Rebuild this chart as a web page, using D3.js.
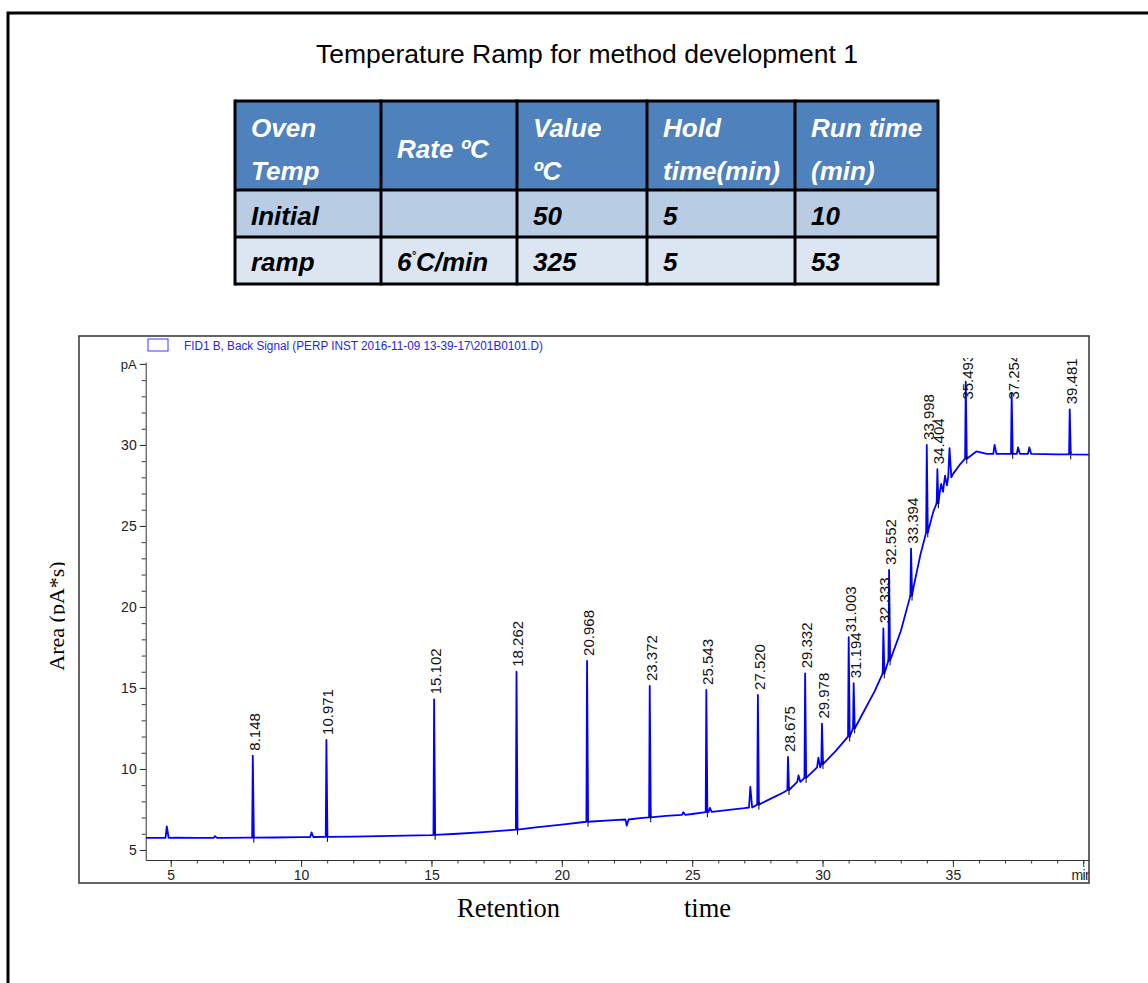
<!DOCTYPE html>
<html>
<head>
<meta charset="utf-8">
<script src="https://cdn.jsdelivr.net/npm/d3@7"></script>
<style>
  body { margin: 0; background: #fff; }
  svg { display: block; }
</style>
</head>
<body>
<script>
// ---- content ----
const title = "Temperature Ramp for method development 1";

const tableHeader = [["Oven", "Temp"], ["Rate ºC"], ["Value", "ºC"], ["Hold", "time(min)"], ["Run time", "(min)"]];
const tableRows = [
  ["Initial", "", "50", "5", "10"],
  ["ramp", "6°C/min", "325", "5", "53"]
];

const signalName = "FID1 B, Back Signal (PERP INST 2016-11-09 13-39-17\\201B0101.D)";

const xTickValues = [5, 10, 15, 20, 25, 30, 35, 40];
const xTickLabels = ["5", "10", "15", "20", "25", "30", "35", "min"];
const yTickValues = [5, 10, 15, 20, 25, 30, 35];
const yTickLabels = ["5", "10", "15", "20", "25", "30", "pA"];

// detector baseline [min, pA]
const baseline = [
  [4.04, 5.74], [4.6, 5.74], [5.2, 5.76], [6, 5.75], [7, 5.75], [8, 5.76], [9, 5.77],
  [10, 5.79], [11, 5.81], [12, 5.82], [13, 5.85], [14, 5.88], [15, 5.92], [16, 6.0],
  [17, 6.1], [18, 6.22], [19, 6.4], [20, 6.56], [21, 6.74], [22, 6.84], [23, 6.96],
  [24, 7.1], [25, 7.22], [26, 7.4], [27, 7.58], [27.5, 7.8], [28, 8.15], [28.5, 8.55],
  [29, 9.1], [29.5, 9.65], [30, 10.3], [30.5, 11.1], [31, 12.0], [31.5, 13.3],
  [32, 14.8], [32.5, 16.5], [33, 18.5], [33.5, 21.3], [33.75, 23.2], [34, 24.6],
  [34.25, 25.9], [34.5, 26.9], [34.75, 27.6], [35, 28.2], [35.25, 28.75], [35.5, 29.15],
  [35.9, 29.6], [36.3, 29.45], [37, 29.45], [38, 29.45], [39, 29.42], [40.22, 29.4]
];

// labelled peaks: retention time, apex, base (pA)
const peakRT   = [8.148, 10.971, 15.102, 18.262, 20.968, 23.372, 25.543, 27.520, 28.675, 29.332,
                  29.978, 31.003, 31.194, 32.333, 32.552, 33.394, 33.998, 34.404, 35.493, 37.254, 39.481];
const peakApex = [10.82, 11.79, 14.3, 16.0, 16.67, 15.12, 14.88, 14.57, 10.74, 15.9,
                  12.8, 18.13, 15.29, 18.68, 22.28, 23.6, 30.0, 28.5, 33.9, 33.2, 32.2];
const peakBase = [5.76, 5.81, 5.93, 6.25, 6.74, 7.01, 7.33, 7.8, 8.7, 9.45,
                  10.3, 12.0, 12.5, 15.9, 16.7, 20.7, 24.6, 26.4, 29.15, 29.45, 29.42];

// small unlabelled features
const minorRT   = [4.85, 6.7, 10.4, 22.49, 24.66, 25.68, 27.23, 29.08, 29.84, 34.55, 34.7, 34.87, 36.6, 37.5, 37.93];
const minorApex = [6.45, 5.85, 6.08, 6.5, 7.33, 7.6, 8.9, 9.6, 10.7, 27.6, 28.1, 29.8, 30.0, 29.85, 29.85];
const minorBase = [5.74, 5.75, 5.8, 6.88, 7.17, 7.35, 7.62, 9.2, 10.1, 27.1, 27.5, 28.0, 29.45, 29.45, 29.45];

// ---- drawing ----
const W = 1148, H = 983;
const svg = d3.select("body").append("svg").attr("width", W).attr("height", H);
const SANS = "'Liberation Sans', Arial, sans-serif";
const SERIF = "'Liberation Serif', 'Times New Roman', serif";

// page border (top and left edges)
svg.append("path").attr("d", `M8,${H} V13 H${W}`)
  .attr("fill", "none").attr("stroke", "#000").attr("stroke-width", 3);

svg.append("text").attr("x", 587).attr("y", 63).attr("text-anchor", "middle")
  .attr("font-family", SANS).attr("font-size", 26.5).attr("fill", "#000").text(title);

// ---- oven program table ----
const colX = [235, 381, 517, 647, 795, 938];
const rowY = [101, 190, 237, 284];
const rowFill = ["#4F81BD", "#B8CCE4", "#DCE6F2"];
const table = svg.append("g");
rowFill.forEach((f, r) => {
  table.append("rect").attr("x", colX[0]).attr("y", rowY[r])
    .attr("width", colX[5] - colX[0]).attr("height", rowY[r + 1] - rowY[r]).attr("fill", f);
});
colX.forEach(cx => table.append("line").attr("x1", cx).attr("x2", cx)
  .attr("y1", rowY[0] - 1.5).attr("y2", rowY[3] + 1.5).attr("stroke", "#000").attr("stroke-width", 3));
rowY.forEach(ry => table.append("line").attr("x1", colX[0]).attr("x2", colX[5])
  .attr("y1", ry).attr("y2", ry).attr("stroke", "#000").attr("stroke-width", 3));

const cellText = (x, y, str, fill) => {
  const t = table.append("text").attr("x", x).attr("y", y)
    .attr("font-family", SANS).attr("font-size", 26).attr("font-weight", "bold")
    .attr("font-style", "italic").attr("fill", fill);
  const parts = str.split("°");
  parts.forEach((p, i) => {
    if (i > 0) t.append("tspan").attr("font-size", 11).attr("dy", -12).text("°");
    t.append("tspan").attr("dy", i > 0 ? 12 : 0).text(p);
  });
};
tableHeader.forEach((lines, c) => {
  const ys = lines.length === 2 ? [137, 180] : [158];
  lines.forEach((s, k) => cellText(colX[c] + 16, ys[k], s, "#fff"));
});
const rowBase = [225, 271];
tableRows.forEach((row, r) => row.forEach((s, c) => { if (s) cellText(colX[c] + 16, rowBase[r], s, "#000"); }));

// ---- chromatogram ----
const x = d3.scaleLinear().domain([4.04, 40.22]).range([145.7, 1089]);
const y = d3.scaleLinear().domain([4.38, 35.12]).range([860, 362]);

const defs = svg.append("defs");
defs.append("clipPath").attr("id", "frameClip").append("rect")
  .attr("x", 79).attr("y", 336).attr("width", 1010).attr("height", 547);
defs.append("clipPath").attr("id", "plotClip").append("rect")
  .attr("x", 146).attr("y", 358).attr("width", 943).attr("height", 502);
defs.append("clipPath").attr("id", "ylabClip").append("rect")
  .attr("x", 0).attr("y", 0).attr("width", 65).attr("height", H);

const chart = svg.append("g").attr("clip-path", "url(#frameClip)");

// legend
chart.append("rect").attr("x", 148).attr("y", 339).attr("width", 20).attr("height", 12)
  .attr("fill", "none").attr("stroke", "#3a3aff").attr("stroke-width", 1);
chart.append("text").attr("x", 184).attr("y", 350).attr("font-family", SANS)
  .attr("font-size", 12.5).attr("fill", "#2424e8")
  .attr("textLength", 359).attr("lengthAdjust", "spacingAndGlyphs").text(signalName);

// axes
const yAxis = chart.append("g").attr("transform", `translate(${x.range()[0]},0)`)
  .call(d3.axisLeft(y).tickValues(yTickValues).tickSize(6).tickSizeOuter(0)
    .tickFormat((d, i) => yTickLabels[i]));
chart.append("g").attr("transform", `translate(${x.range()[0]},0)`)
  .call(d3.axisLeft(y).tickValues(d3.range(5, 36)).tickSize(4).tickSizeOuter(0).tickFormat(""))
  .select(".domain").remove();
const xAxis = chart.append("g").attr("transform", `translate(0,${y.range()[0]})`)
  .call(d3.axisBottom(x).tickValues(xTickValues).tickSize(7).tickSizeOuter(0)
    .tickFormat((d, i) => xTickLabels[i]));
chart.append("g").attr("transform", `translate(0,${y.range()[0]})`)
  .call(d3.axisBottom(x).tickValues(d3.range(5, 41)).tickSize(3.5).tickSizeOuter(0).tickFormat(""))
  .select(".domain").remove();
chart.selectAll(".domain, .tick line").attr("stroke", "#333").attr("stroke-width", 1);
yAxis.selectAll("text").attr("font-family", SANS).attr("font-size", 14).attr("fill", "#222").attr("x", -9);
yAxis.selectAll(".tick").filter((d, i) => yTickLabels[i] === "pA").select("text").attr("font-size", 13);
xAxis.selectAll("text").attr("font-family", SANS).attr("font-size", 14).attr("fill", "#222").attr("y", 10);
xAxis.selectAll(".tick").filter((d, i) => xTickLabels[i] === "min").select("text")
  .attr("letter-spacing", -0.6).attr("dx", -2);

// signal trace: baseline points outside peak windows plus peak outlines
const pts = [];
const near = t => peakRT.some(r => t > r - 0.08 && t < r + 0.1) || minorRT.some(r => t > r - 0.1 && t < r + 0.12);
baseline.forEach(p => { if (!near(p[0])) pts.push(p); });
peakRT.forEach((r, i) => {
  pts.push([r - 0.025, peakBase[i]], [r, peakApex[i]], [r + 0.04, peakBase[i]]);
});
minorRT.forEach((r, i) => {
  pts.push([r - 0.05, minorBase[i]], [r, minorApex[i]], [r + 0.07, minorBase[i]]);
});
pts.sort((a, b) => a[0] - b[0]);

const plot = chart.append("g").attr("clip-path", "url(#plotClip)");

// integration markers at peak bases
plot.selectAll("line.base").data(peakRT).join("line").attr("class", "base")
  .attr("x1", (d, i) => x(d) - 2).attr("x2", (d, i) => x(d) + 2)
  .attr("y1", (d, i) => y(peakBase[i])).attr("y2", (d, i) => y(peakBase[i]))
  .attr("stroke", "#e040e0").attr("stroke-width", 1.4);

plot.append("path").datum(pts)
  .attr("d", d3.line().x(d => x(d[0])).y(d => y(d[1])))
  .attr("fill", "none").attr("stroke", "#0000ff").attr("stroke-width", 1.8)
  .attr("stroke-linejoin", "round");

plot.selectAll("line.mark").data(peakRT).join("line").attr("class", "mark")
  .attr("x1", d => x(d) + 1).attr("x2", d => x(d) + 1)
  .attr("y1", (d, i) => y(peakBase[i]) - 3).attr("y2", (d, i) => y(peakBase[i]) + 5)
  .attr("stroke", "#000").attr("stroke-width", 1);

// retention time labels (kept below the label ceiling)
const labelCeiling = 32.8;
plot.selectAll("text.rt").data(peakRT).join("text").attr("class", "rt")
  .attr("transform", (d, i) => {
    const ly = Math.max(y(peakApex[i]) - 5, y(labelCeiling));
    return `translate(${x(d) + 6.9},${ly}) rotate(-90)`;
  })
  .attr("font-family", SANS).attr("font-size", 15).attr("fill", "#111")
  .text(d => d.toFixed(3));

// frame
svg.append("rect").attr("x", 79).attr("y", 336).attr("width", 1010).attr("height", 547)
  .attr("fill", "none").attr("stroke", "#333").attr("stroke-width", 1.5);

// axis titles
svg.append("g").attr("clip-path", "url(#ylabClip)")
  .append("text").attr("transform", "translate(64,616) rotate(-90)")
  .attr("text-anchor", "middle").attr("font-family", SERIF).attr("font-size", 22)
  .attr("fill", "#000").text("Area (pA*s)");
svg.append("text").attr("x", 457).attr("y", 917).attr("font-family", SERIF)
  .attr("font-size", 26.5).attr("fill", "#000").text("Retention");
svg.append("text").attr("x", 684).attr("y", 917).attr("font-family", SERIF)
  .attr("font-size", 26.5).attr("fill", "#000").text("time");
</script>
</body>
</html>
